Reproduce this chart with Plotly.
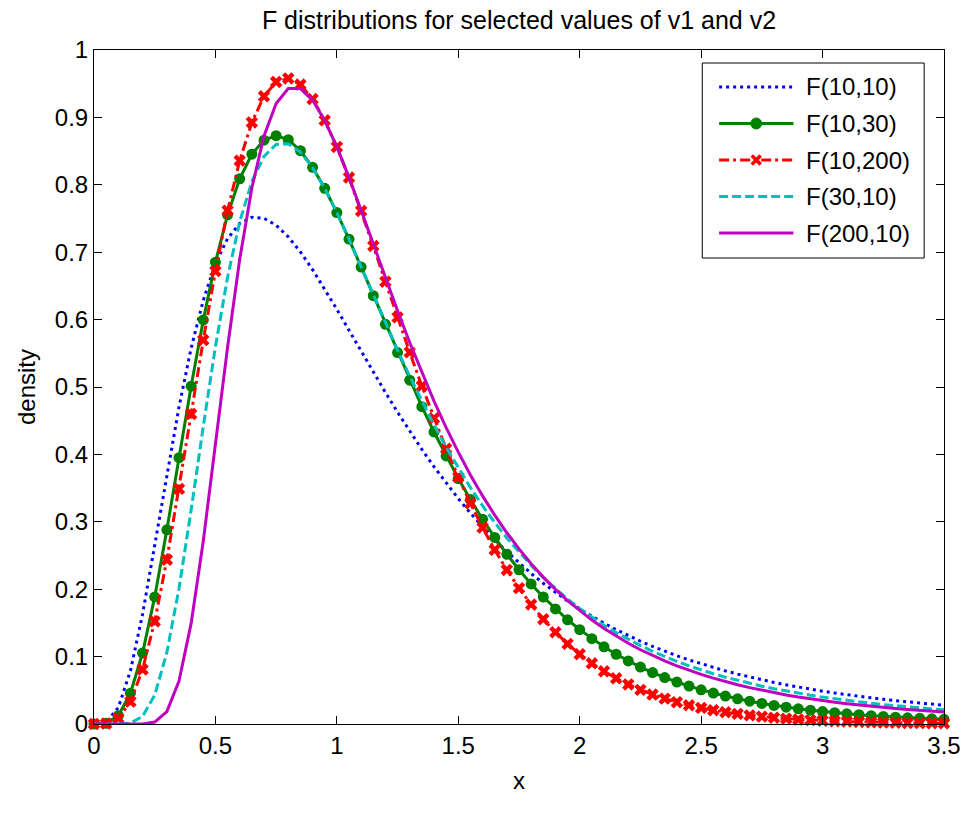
import plotly.graph_objects as go

x_vals = [0.00, 0.05, 0.10, 0.15, 0.20, 0.25, 0.30, 0.35, 0.40, 0.45, 0.50, 0.55, 0.60, 0.65, 0.70,
          0.75, 0.80, 0.85, 0.90, 0.95, 1.00, 1.05, 1.10, 1.15, 1.20, 1.25, 1.30, 1.35, 1.40, 1.45,
          1.50, 1.55, 1.60, 1.65, 1.70, 1.75, 1.80, 1.85, 1.90, 1.95, 2.00, 2.05, 2.10, 2.15, 2.20,
          2.25, 2.30, 2.35, 2.40, 2.45, 2.50, 2.55, 2.60, 2.65, 2.70, 2.75, 2.80, 2.85, 2.90, 2.95,
          3.00, 3.05, 3.10, 3.15, 3.20, 3.25, 3.30, 3.35, 3.40, 3.45, 3.50]

f_10_10 = [0, 0.00242, 0.02429, 0.07884, 0.16280, 0.26424, 0.37016, 0.47019, 0.55757, 0.62876,
           0.68282, 0.72024, 0.74258, 0.75188, 0.75031, 0.73995, 0.72273, 0.70032, 0.67418, 0.64549,
           0.61524, 0.58420, 0.55299, 0.52209, 0.49186, 0.46255, 0.43435, 0.40738, 0.38172, 0.35740,
           0.33443, 0.31280, 0.29247, 0.27341, 0.25556, 0.23887, 0.22328, 0.20873, 0.19515, 0.18250,
           0.17070, 0.15972, 0.14949, 0.13995, 0.13108, 0.12281, 0.11511, 0.10793, 0.10125, 0.09502,
           0.08921, 0.08380, 0.07874, 0.07403, 0.06963, 0.06552, 0.06168, 0.05809, 0.05474, 0.05160,
           0.04867, 0.04592, 0.04335, 0.04094, 0.03868, 0.03656, 0.03457, 0.03271, 0.03095, 0.02931,
           0.02776]

f_10_30 = [0, 0.00107, 0.01242, 0.04565, 0.10530, 0.18854, 0.28807, 0.39507, 0.50114, 0.59946,
           0.68520, 0.75541, 0.80883, 0.84547, 0.86628, 0.87281, 0.86694, 0.85067, 0.82599, 0.79478,
           0.75874, 0.71938, 0.67794, 0.63551, 0.59298, 0.55101, 0.51016, 0.47081, 0.43327, 0.39772,
           0.36426, 0.33296, 0.30382, 0.27681, 0.25185, 0.22886, 0.20776, 0.18843, 0.17076, 0.15464,
           0.13996, 0.12661, 0.11449, 0.10349, 0.09352, 0.08450, 0.07633, 0.06894, 0.06227, 0.05624,
           0.05079, 0.04588, 0.04144, 0.03744, 0.03383, 0.03057, 0.02763, 0.02498, 0.02259, 0.02043,
           0.01848, 0.01673, 0.01514, 0.01371, 0.01242, 0.01125, 0.01020, 0.00925, 0.00839, 0.00761,
           0.00691]

f_10_200 = [0, 0.00069, 0.00851, 0.03319, 0.08087, 0.15230, 0.24377, 0.34881, 0.45989, 0.56968,
            0.67190, 0.76171, 0.83585, 0.89254, 0.93129, 0.95263, 0.95784, 0.94868, 0.92724, 0.89568,
            0.85616, 0.81071, 0.76119, 0.70922, 0.65621, 0.60330, 0.55144, 0.50135, 0.45357, 0.40850,
            0.36636, 0.32730, 0.29135, 0.25849, 0.22862, 0.20161, 0.17731, 0.15555, 0.13613, 0.11888,
            0.10359, 0.09009, 0.07821, 0.06778, 0.05864, 0.05066, 0.04370, 0.03765, 0.03239, 0.02783,
            0.02389, 0.02048, 0.01754, 0.01501, 0.01283, 0.01096, 0.00935, 0.00798, 0.00680, 0.00579,
            0.00493, 0.00419, 0.00356, 0.00303, 0.00257, 0.00218, 0.00185, 0.00157, 0.00133, 0.00113,
            0.00095]

f_30_10 = [0, 0.0, 0.00004, 0.00144, 0.01131, 0.04283, 0.10615, 0.20099, 0.31745, 0.44148,
           0.55985, 0.66290, 0.74516, 0.80471, 0.84224, 0.85997, 0.86094, 0.84838, 0.82539, 0.79472,
           0.75873, 0.71941, 0.67830, 0.63660, 0.59521, 0.55483, 0.51592, 0.47878, 0.44363, 0.41055,
           0.37959, 0.35072, 0.32390, 0.29904, 0.27605, 0.25481, 0.23524, 0.21721, 0.20061, 0.18534,
           0.17130, 0.15839, 0.14652, 0.13561, 0.12558, 0.11636, 0.10788, 0.10008, 0.09289, 0.08628,
           0.08018, 0.07457, 0.06939, 0.06461, 0.06019, 0.05612, 0.05235, 0.04887, 0.04565, 0.04267,
           0.03990, 0.03734, 0.03496, 0.03276, 0.03071, 0.02881, 0.02704, 0.02539, 0.02386, 0.02243,
           0.02110]

f_200_10 = [0, 0.0, 0.0, 0.000001, 0.00015, 0.00286, 0.01842, 0.06366, 0.14930, 0.27142,
            0.41437, 0.55902, 0.68950, 0.79535, 0.87237, 0.92050, 0.94271, 0.94279, 0.92570, 0.89553,
            0.85617, 0.81085, 0.76212, 0.71198, 0.66194, 0.61299, 0.56596, 0.52121, 0.47916, 0.43985,
            0.40330, 0.36954, 0.33844, 0.30989, 0.28373, 0.25976, 0.23789, 0.21793, 0.19970, 0.18312,
            0.16797, 0.15418, 0.14162, 0.13015, 0.11971, 0.11017, 0.10147, 0.09354, 0.08628, 0.07964,
            0.07358, 0.06803, 0.06295, 0.05829, 0.05401, 0.05009, 0.04649, 0.04318, 0.04014, 0.03733,
            0.03475, 0.03237, 0.03017, 0.02815, 0.02627, 0.02454, 0.02294, 0.02146, 0.02008, 0.01881,
            0.01763]

series_names = ["F(10,10)", "F(10,30)", "F(10,200)", "F(30,10)", "F(200,10)"]
x_ticks = [0, 0.5, 1, 1.5, 2, 2.5, 3, 3.5]
y_ticks = [0, 0.1, 0.2, 0.3, 0.4, 0.5, 0.6, 0.7, 0.8, 0.9, 1]

FONT = "Liberation Sans, Arial, sans-serif"

# figure geometry (pixels)
W, H = 973, 838
ML, MR, MT, MB = 94, 21, 50, 114
PW, PH = W - ML - MR, H - MT - MB


def px(xpix):
    return (xpix - ML) / PW


def py(ypix):
    return (H - MB - ypix) / PH


styles = [
    dict(color="#0000FF", dash="3px,4px", marker=None),
    dict(color="#008000", dash="solid", marker="circle"),
    dict(color="#FF0000", dash="10px,4px,3px,4px", marker="x"),
    dict(color="#00BFBF", dash="9px,4px", marker=None),
    dict(color="#BF00BF", dash="solid", marker=None),
]
series = [f_10_10, f_10_30, f_10_200, f_30_10, f_200_10]

fig = go.Figure()
for name, ys, st in zip(series_names, series, styles):
    kw = dict(x=x_vals, y=ys, name=name, showlegend=False, cliponaxis=False,
              line=dict(color=st["color"], width=3, dash=st["dash"]))
    if st["marker"]:
        kw["mode"] = "lines+markers"
        kw["marker"] = dict(symbol=st["marker"], size=11, color=st["color"])
    else:
        kw["mode"] = "lines"
    fig.add_trace(go.Scatter(**kw))

# ---- legend drawn as layout decoration ----
shapes = []
annotations = []
box = (708, 63, 932, 258)
shapes.append(dict(type="rect", xref="paper", yref="paper",
                   x0=px(box[0]), x1=px(box[2]), y0=py(box[3]), y1=py(box[1]),
                   line=dict(color="black", width=1), fillcolor="white", layer="above"))
row_y = [87, 123.5, 160, 196.5, 233]
for name, st, ry in zip(series_names, styles, row_y):
    shapes.append(dict(type="line", xref="paper", yref="paper",
                       x0=px(725), x1=px(800), y0=py(ry), y1=py(ry),
                       line=dict(color=st["color"], width=3, dash=st["dash"]), layer="above"))
    cx = 762.5
    if st["marker"] == "circle":
        r = 5.5
        shapes.append(dict(type="circle", xref="paper", yref="paper",
                           x0=px(cx - r), x1=px(cx + r), y0=py(ry + r), y1=py(ry - r),
                           line=dict(color=st["color"], width=1), fillcolor=st["color"],
                           layer="above"))
    elif st["marker"] == "x":
        r = 4.5
        for a, b in (((cx - r, ry - r), (cx + r, ry + r)), ((cx - r, ry + r), (cx + r, ry - r))):
            shapes.append(dict(type="line", xref="paper", yref="paper",
                               x0=px(a[0]), y0=py(a[1]), x1=px(b[0]), y1=py(b[1]),
                               line=dict(color=st["color"], width=3.5), layer="above"))
    annotations.append(dict(text=name, xref="paper", yref="paper",
                            x=px(811), y=py(ry), xanchor="left", yanchor="middle",
                            showarrow=False,
                            font=dict(family=FONT, size=24, color="black")))

axis_common = dict(
    showline=True, linecolor="black", linewidth=1, mirror="allticks",
    ticks="inside", ticklen=8, tickcolor="black", tickwidth=1,
    showgrid=False, zeroline=False,
    tickfont=dict(family=FONT, size=24, color="black"),
)

fig.update_xaxes(range=[0, 3.5], tickvals=x_ticks,
                 ticktext=[("%g" % v) for v in x_ticks],
                 title=dict(text="x", font=dict(family=FONT, size=24, color="black"), standoff=14),
                 **axis_common)
fig.update_yaxes(range=[0, 1], tickvals=y_ticks,
                 ticktext=[("%g" % v) for v in y_ticks],
                 title=dict(text="density", font=dict(family=FONT, size=24, color="black"), standoff=12),
                 **axis_common)

fig.update_layout(
    width=W, height=H,
    margin=dict(l=ML, r=MR, t=MT, b=MB),
    paper_bgcolor="white", plot_bgcolor="white",
    font=dict(family=FONT, size=24, color="black"),
    title=dict(text="F distributions for selected values of v1 and v2",
               x=0.5, xref="paper", xanchor="center",
               y=1 - 20 / H, yref="container", yanchor="middle",
               font=dict(family=FONT, size=25, color="black")),
    shapes=shapes,
    annotations=annotations,
    showlegend=False,
)

fig.write_html("out.html")
